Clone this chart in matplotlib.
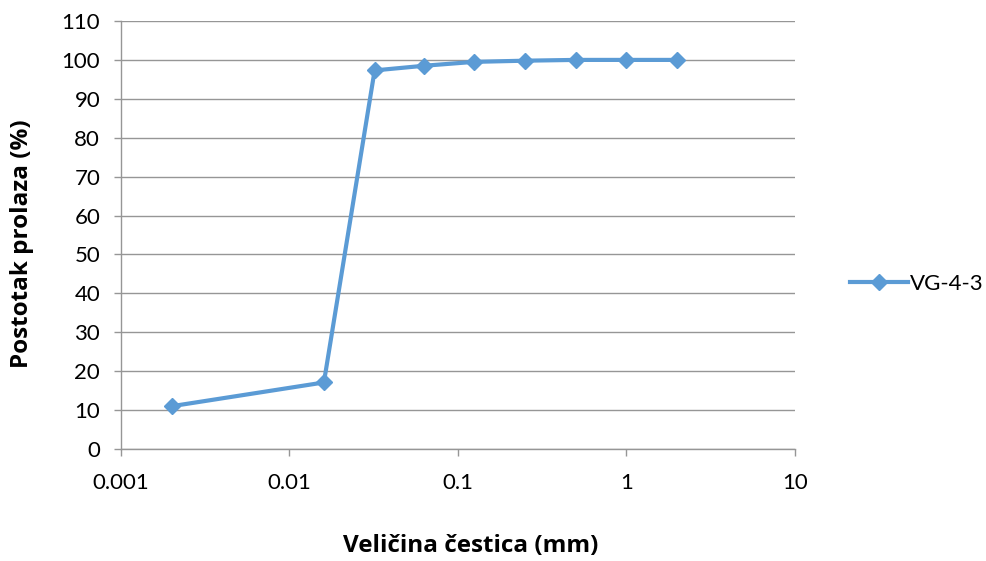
import matplotlib
matplotlib.use("Agg")
import matplotlib.pyplot as plt
from matplotlib.ticker import FixedLocator, NullLocator

# particle size (mm) and percent passing
size_mm = [0.002, 0.016, 0.032, 0.063, 0.125, 0.25, 0.5, 1, 2]
passing = [11.0, 17.1, 97.3, 98.5, 99.5, 99.8, 100.0, 100.0, 100.0]
x_ticks = [0.001, 0.01, 0.1, 1, 10]
x_labels = ["0.001", "0.01", "0.1", "1", "10"]
y_ticks = list(range(0, 111, 10))

blue = "#5B9BD5"
grey = "#969696"
font = "Lato"

fig = plt.figure(figsize=(9.87, 5.61), dpi=100)
ax = fig.add_axes([121 / 987, 1 - 449 / 561, (795 - 121) / 987, (449 - 21) / 561])

ax.plot(size_mm, passing, color=blue, lw=3, marker="D", ms=8.5, label="VG-4-3")

ax.set_xscale("log")
ax.set_xlim(0.001, 10)
ax.set_ylim(0, 110)
ax.xaxis.set_major_locator(FixedLocator(x_ticks))
ax.xaxis.set_minor_locator(NullLocator())
ax.set_xticklabels(x_labels, family=font, fontsize=16)
ax.set_yticks(y_ticks)
ax.set_yticklabels([str(v) for v in y_ticks], family=font, fontsize=16)

ax.grid(axis="y", color=grey, lw=1)
ax.set_axisbelow(True)
for s in ["top", "right"]:
    ax.spines[s].set_visible(False)
for s in ["left", "bottom"]:
    ax.spines[s].set_color(grey)
    ax.spines[s].set_linewidth(1)
ax.tick_params(axis="both", color=grey, length=5, width=1)
ax.tick_params(axis="x", pad=12)
ax.tick_params(axis="y", pad=10)

ax.set_xlabel("Veličina čestica (mm)", family="Open Sans", fontweight="bold",
              fontsize=17.5, labelpad=30)
ax.set_ylabel("Postotak prolaza (%)", family="Open Sans", fontweight="bold",
              fontsize=17.5, labelpad=20)
# titles sit a little off-centre in the original
ax.xaxis.label.set_x(0.519)
ax.yaxis.label.set_y(0.479)

ax.legend(loc="center left", bbox_to_anchor=(1.052, 0.385), frameon=False,
          prop={"family": font, "size": 16}, handlelength=2.6,
          handletextpad=0.1)

fig.savefig("out.png", dpi=100)
